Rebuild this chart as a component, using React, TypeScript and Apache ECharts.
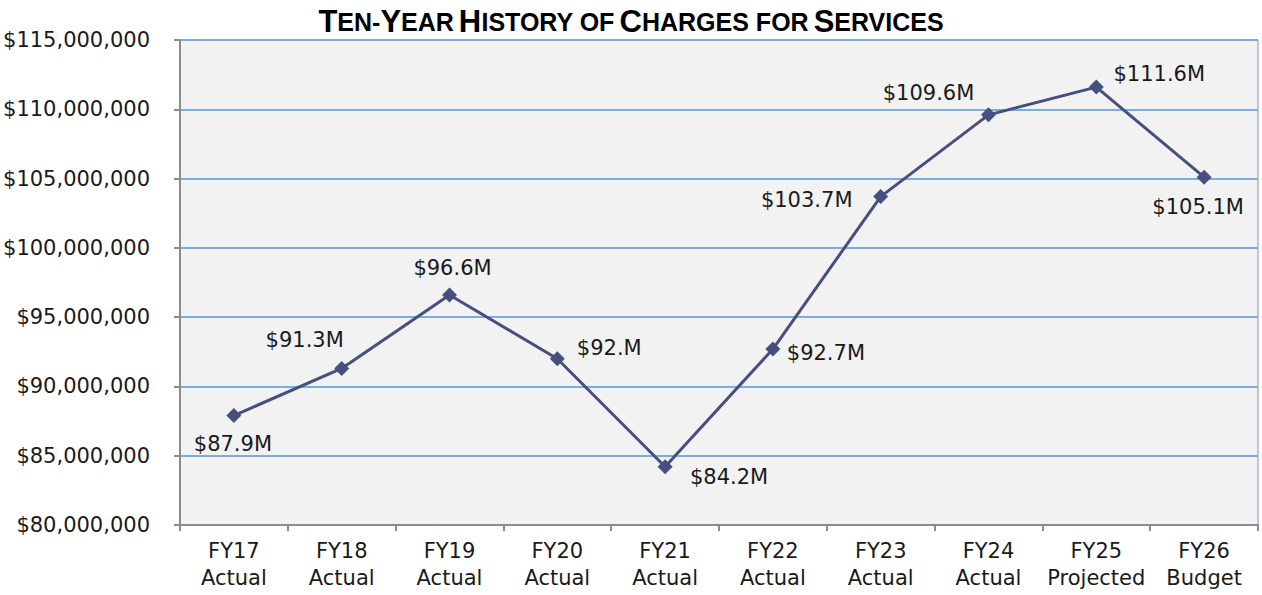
import React, { useEffect, useRef } from "react";
import * as echarts from "echarts";

const categories = ["FY17\nActual", "FY18\nActual", "FY19\nActual", "FY20\nActual", "FY21\nActual", "FY22\nActual", "FY23\nActual", "FY24\nActual", "FY25\nProjected", "FY26\nBudget"];
const values = [87900000, 91300000, 96600000, 92000000, 84200000, 92700000, 103700000, 109600000, 111600000, 105100000];
const labels = ["$87.9M", "$91.3M", "$96.6M", "$92.M", "$84.2M", "$92.7M", "$103.7M", "$109.6M", "$111.6M", "$105.1M"];
const labelOffsets: [number, number][] = [[-1, 28], [-37, -28], [3, -27], [52, -11], [64, 10], [53, 4], [-74, 3], [-60, -22], [63, -13], [-6, 30]];

const FONT = "DejaVu Sans";

export default function App() {
  const ref = useRef<HTMLDivElement>(null);
  useEffect(() => {
    const chart = echarts.init(ref.current!, null, { renderer: "svg" });
    const fmt = (v: number) => "$" + v.toLocaleString("en-US");
    chart.setOption({
      animation: false,
      backgroundColor: "#ffffff",
      title: {
        left: "center",
        top: 1,
        text: "{b|T}{s|EN-}{b|Y}{s|EAR} {b|H}{s|ISTORY OF} {b|C}{s|HARGES FOR} {b|S}{s|ERVICES}",
        textStyle: {
          rich: {
            b: { fontFamily: "Liberation Sans", fontWeight: "bold", fontSize: 31, color: "#000" },
            s: { fontFamily: "Liberation Sans", fontWeight: "bold", fontSize: 25, color: "#000" },
          },
        },
      },
      grid: {
        left: 180,
        right: 4,
        top: 40,
        bottom: 70,
        show: true,
        backgroundColor: "#f2f2f2",
        borderColor: "#8496b8",
        borderWidth: 1,
      },
      xAxis: {
        type: "category",
        data: categories,
        boundaryGap: true,
        axisLine: { lineStyle: { color: "#8c8c8c", width: 2 } },
        axisTick: { show: true, interval: 0, length: 6, lineStyle: { color: "#8c8c8c", width: 2 } },
        axisLabel: { interval: 0, color: "#1a1a1a", fontFamily: FONT, fontSize: 21, lineHeight: 27, margin: 12 },
      },
      yAxis: {
        type: "value",
        min: 80000000,
        max: 115000000,
        interval: 5000000,
        axisLine: { show: true, lineStyle: { color: "#8c8c8c", width: 2 } },
        axisTick: { show: true, length: 6, lineStyle: { color: "#8c8c8c", width: 2 } },
        axisLabel: { color: "#1a1a1a", fontFamily: FONT, fontSize: 21, margin: 30, formatter: fmt },
        splitLine: { show: true, lineStyle: { color: "#7aaee0", width: 2 } },
      },
      series: [
        {
          type: "line",
          data: values.map((v, i) => ({
            value: v,
            label: {
              show: true,
              position: "inside",
              align: "center",
              verticalAlign: "middle",
              offset: labelOffsets[i],
              formatter: labels[i],
            },
          })),
          symbol: "diamond",
          symbolSize: 15,
          lineStyle: { color: "#464f7e", width: 3 },
          itemStyle: { color: "#464f7e" },
          label: { color: "#1a1a1a", fontFamily: FONT, fontSize: 21 },
        },
      ],
    });
    return () => chart.dispose();
  }, []);
  return <div ref={ref} style={{ width: 1262, height: 595, position: "absolute", left: 0, top: 0 }} />;
}
